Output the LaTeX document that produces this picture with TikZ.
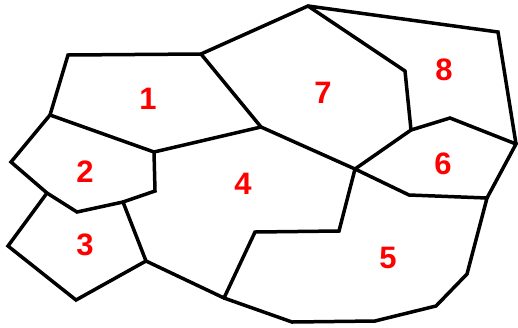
\documentclass[tikz,border=0pt]{standalone}
\usepackage{fontspec}
\setmainfont{Liberation Sans}
\begin{document}
\begin{tikzpicture}[x=1pt,y=-1pt,
  edge/.style={line width=3.5pt,line join=miter,line cap=round},
  lab/.style={text=red,font=\bfseries\fontsize{31}{32}\selectfont,inner sep=0pt}]
\useasboundingbox (0,0) rectangle (518,327);
\coordinate (a) at (68,55);
\coordinate (b) at (201,54);
\coordinate (c) at (261,127);
\coordinate (d) at (154,152);
\coordinate (e) at (50,115);
\coordinate (f) at (11,162);
\coordinate (g) at (47,193);
\coordinate (h) at (77,212);
\coordinate (i) at (123,202);
\coordinate (j) at (155,191);
\coordinate (k) at (146,261);
\coordinate (l) at (76,300);
\coordinate (m) at (8,246);
\coordinate (n) at (224,298);
\coordinate (o) at (292,322);
\coordinate (p) at (375,321);
\coordinate (q) at (436,306);
\coordinate (r) at (467,274);
\coordinate (s) at (487,198);
\coordinate (t) at (409,195);
\coordinate (u) at (355,169);
\coordinate (v) at (339,231);
\coordinate (w) at (255,232);
\coordinate (x) at (411,130);
\coordinate (y) at (450,118);
\coordinate (z) at (516,144);
\coordinate (aa) at (498,32);
\coordinate (bb) at (308,6);
\coordinate (cc) at (405,71);
% region boundaries
\draw[edge] (e) -- (a) -- (b) -- (c) -- (d) -- (e);
\draw[edge] (e) -- (f) -- (g) -- (h) -- (i) -- (j) -- (d);
\draw[edge] (g) -- (m) -- (l) -- (k) -- (i);
\draw[edge] (k) -- (n) -- (o) -- (p) -- (q) -- (r) -- (s) -- (t) -- (u);
\draw[edge] (c) -- (u) -- (v) -- (w) -- (n);
\draw[edge] (u) -- (x) -- (y) -- (z) -- (s);
\draw[edge] (b) -- (bb) -- (aa) -- (z);
\draw[edge] (bb) -- (cc) -- (x);
% labels
\node[lab] (l1) at (148,99) {1};
\node[lab] (l2) at (85,172) {2};
\node[lab] (l3) at (85,245) {3};
\node[lab] (l4) at (243,184) {4};
\node[lab] (l5) at (388,258) {5};
\node[lab] (l6) at (443,164) {6};
\node[lab] (l7) at (323,93) {7};
\node[lab] (l8) at (444,70) {8};
\end{tikzpicture}
\end{document}
